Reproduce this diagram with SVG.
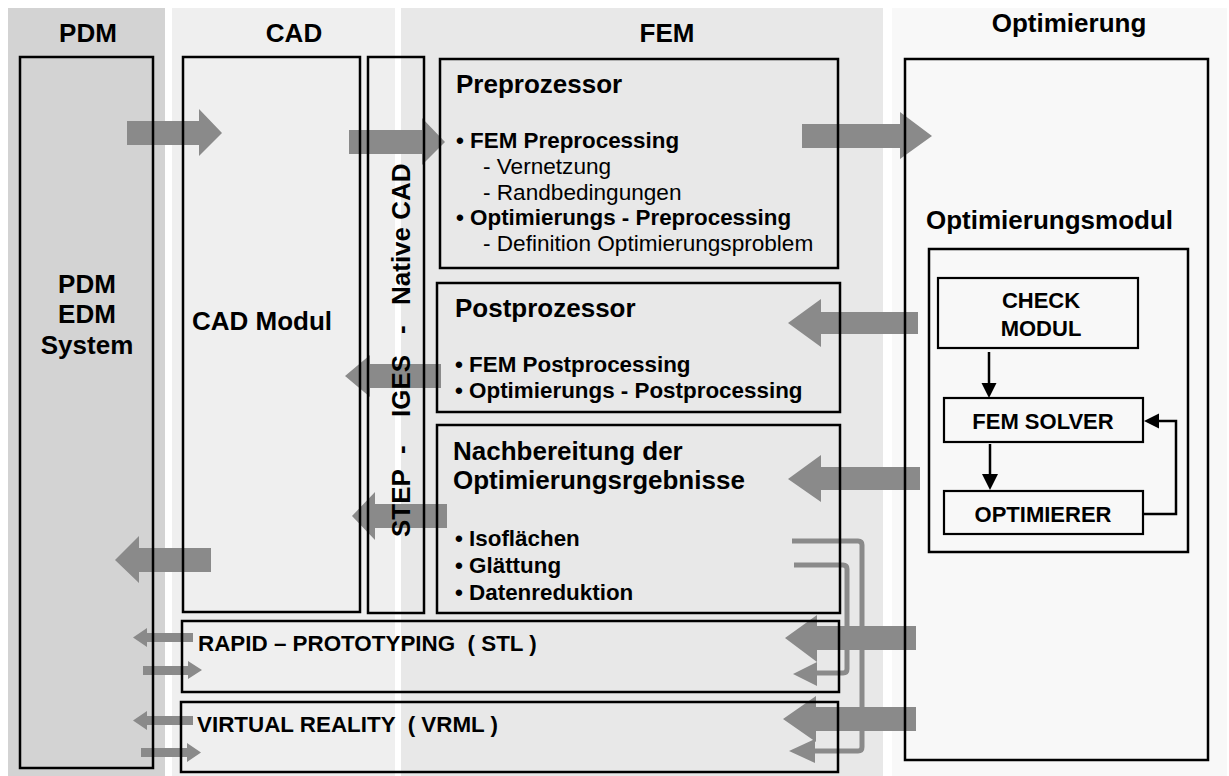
<svg xmlns="http://www.w3.org/2000/svg" width="1229" height="776" viewBox="0 0 1229 776">
<style>
text{font-family:"Liberation Sans",Arial,sans-serif;fill:#000}
.h{font-size:26px;font-weight:bold;text-anchor:middle}
.t{font-size:26px;font-weight:bold}
.b{font-size:22.4px;font-weight:bold}
.r{font-size:22.6px}
.s{font-size:22px;font-weight:bold;text-anchor:middle}
.box{fill:none;stroke:#000;stroke-width:2.5}
.ibox{fill:none;stroke:#000;stroke-width:2.2}
.ga{fill:#8a8a8a;stroke:none}
.gl{fill:none;stroke:#8a8a8a;stroke-width:5}
.bl{fill:none;stroke:#000;stroke-width:2.5}
.bh{fill:#000}
</style>
<g id="background">
<rect x="0" y="0" width="1229" height="776" fill="#ffffff"/>
<rect x="8" y="8" width="157" height="768" fill="#d3d3d3"/>
<rect x="172" y="8" width="223" height="768" fill="#efefef"/>
<rect x="401" y="8" width="482" height="768" fill="#e8e8e8"/>
<rect x="892" y="8" width="335" height="768" fill="#f8f8f8"/>
<text class="h" x="88" y="42">PDM</text>
<text class="h" x="294" y="42">CAD</text>
<text class="h" x="667" y="42">FEM</text>
<text class="h" x="1069" y="32">Optimierung</text>
</g>
<g id="connectors">
<polygon class="ga" points="127,121 199,121 199,109 222,133 199,156 199,145 127,145"/>
<polygon class="ga" points="349,130 422,130 422,118 445,142 422,165 422,154 349,154"/>
<polygon class="ga" points="802,124 900,124 900,112 932,136 900,159 900,148 802,148"/>
<polygon class="ga" points="918,312 821,312 821,299 788,323 821,347 821,334 918,334"/>
<polygon class="ga" points="920,467 821,467 821,455 788,479 821,502 821,490 920,490"/>
<polygon class="ga" points="441,364 370,364 370,355 345,376 370,397 370,388 441,388"/>
<polygon class="ga" points="447,504 375,504 375,492 352,516 375,540 375,528 447,528"/>
<polygon class="ga" points="211,548 139,548 139,536 115,560 139,583 139,572 211,572"/>
<polygon class="ga" points="916,626 817,626 817,615 785,638 817,662 817,650 916,650"/>
<polygon class="ga" points="916,707 816,707 816,696 783,719 816,742 816,731 916,731"/>
<polygon class="ga" points="193,633 147,633 147,628 133,637.5 147,647 147,642 193,642"/>
<polygon class="ga" points="143,666 188,666 188,661 202,670 188,679 188,675 143,675"/>
<polygon class="ga" points="193,716 147,716 147,711 133,720.5 147,730 147,725 193,725"/>
<polygon class="ga" points="141,748 187,748 187,743 201,752.5 187,762 187,757 141,757"/>
<path class="gl" d="M792,541 H858 Q862,541 862,545 V747 Q862,751 858,751 H812"/>
<polygon class="ga" points="815,739 789,751 815,763"/>
<path class="gl" d="M794,565 H843 Q847,565 847,569 V669 Q847,673 843,673 H814"/>
<polygon class="ga" points="817,662 793,674 817,686"/>
<line class="bl" x1="989" y1="352" x2="989" y2="385"/>
<polygon class="bh" points="981.5,383 996.5,383 989,398"/>
<line class="bl" x1="990" y1="444" x2="990" y2="476"/>
<polygon class="bh" points="982,474 998,474 990,490"/>
<polyline class="bl" points="1142,514 1176,514 1176,421 1157,421"/>
<polygon class="bh" points="1159,413.5 1159,428.5 1144,421"/>
</g>
<g id="pdm">
<rect class="box" x="20" y="57" width="133" height="711"/>
<text class="t" text-anchor="middle" x="87" y="293">PDM</text>
<text class="t" text-anchor="middle" x="87" y="323">EDM</text>
<text class="t" text-anchor="middle" x="87" y="354">System</text>
</g>
<g id="cad">
<rect class="box" x="183" y="57" width="177" height="555"/>
<text class="t" x="192" y="330">CAD Modul</text>
</g>
<g id="formats">
<rect class="box" x="368" y="57" width="56" height="556"/>
<text class="t" transform="translate(410,537) rotate(-90)"><tspan x="0">STEP</tspan><tspan x="83">-</tspan><tspan x="120">IGES</tspan><tspan x="203">-</tspan><tspan x="232">Native CAD</tspan></text>
</g>
<g id="preprozessor">
<rect class="box" x="440" y="59" width="398" height="209"/>
<text class="t" x="456" y="93">Preprozessor</text>
<text class="b" x="456" y="148">• FEM Preprocessing</text>
<text class="r" x="483" y="174">- Vernetzung</text>
<text class="r" x="483" y="200">- Randbedingungen</text>
<text class="b" x="456" y="225">• Optimierungs - Preprocessing</text>
<text class="r" x="483" y="251">- Definition Optimierungsproblem</text>
</g>
<g id="postprozessor">
<rect class="box" x="437" y="283" width="403" height="129"/>
<text class="t" x="455" y="317">Postprozessor</text>
<text class="b" x="455" y="372">• FEM Postprocessing</text>
<text class="b" x="455" y="398">• Optimierungs - Postprocessing</text>
</g>
<g id="nachbereitung">
<rect class="box" x="437" y="425" width="403" height="188"/>
<text class="t" x="453" y="460">Nachbereitung der</text>
<text class="t" x="453" y="489">Optimierungsrgebnisse</text>
<text class="b" x="455" y="546">• Isoflächen</text>
<text class="b" x="455" y="573">• Glättung</text>
<text class="b" x="455" y="600">• Datenreduktion</text>
</g>
<g id="rapid">
<rect class="box" x="182" y="621" width="657" height="71"/>
<text class="b" x="198" y="651" xml:space="preserve">RAPID – PROTOTYPING  ( STL )</text>
</g>
<g id="vr">
<rect class="box" x="181" y="702" width="657" height="70"/>
<text class="b" x="197" y="732" xml:space="preserve">VIRTUAL REALITY  ( VRML )</text>
</g>
<g id="optimierung">
<rect class="box" x="905" y="59" width="303" height="701"/>
<text class="t" x="926" y="229">Optimierungsmodul</text>
</g>
<g id="optimierungsmodul">
<rect class="box" x="929" y="249" width="259" height="303"/>
</g>
<g id="check">
<rect class="ibox" x="938" y="278" width="200" height="70"/>
<text class="s" x="1041" y="308">CHECK</text>
<text class="s" x="1041" y="336">MODUL</text>
</g>
<g id="solver">
<rect class="ibox" x="944" y="398" width="199" height="44"/>
<text class="s" x="1043" y="429">FEM SOLVER</text>
</g>
<g id="optimierer">
<rect class="ibox" x="944" y="491" width="199" height="43"/>
<text class="s" x="1043" y="522">OPTIMIERER</text>
</g>
</svg>
